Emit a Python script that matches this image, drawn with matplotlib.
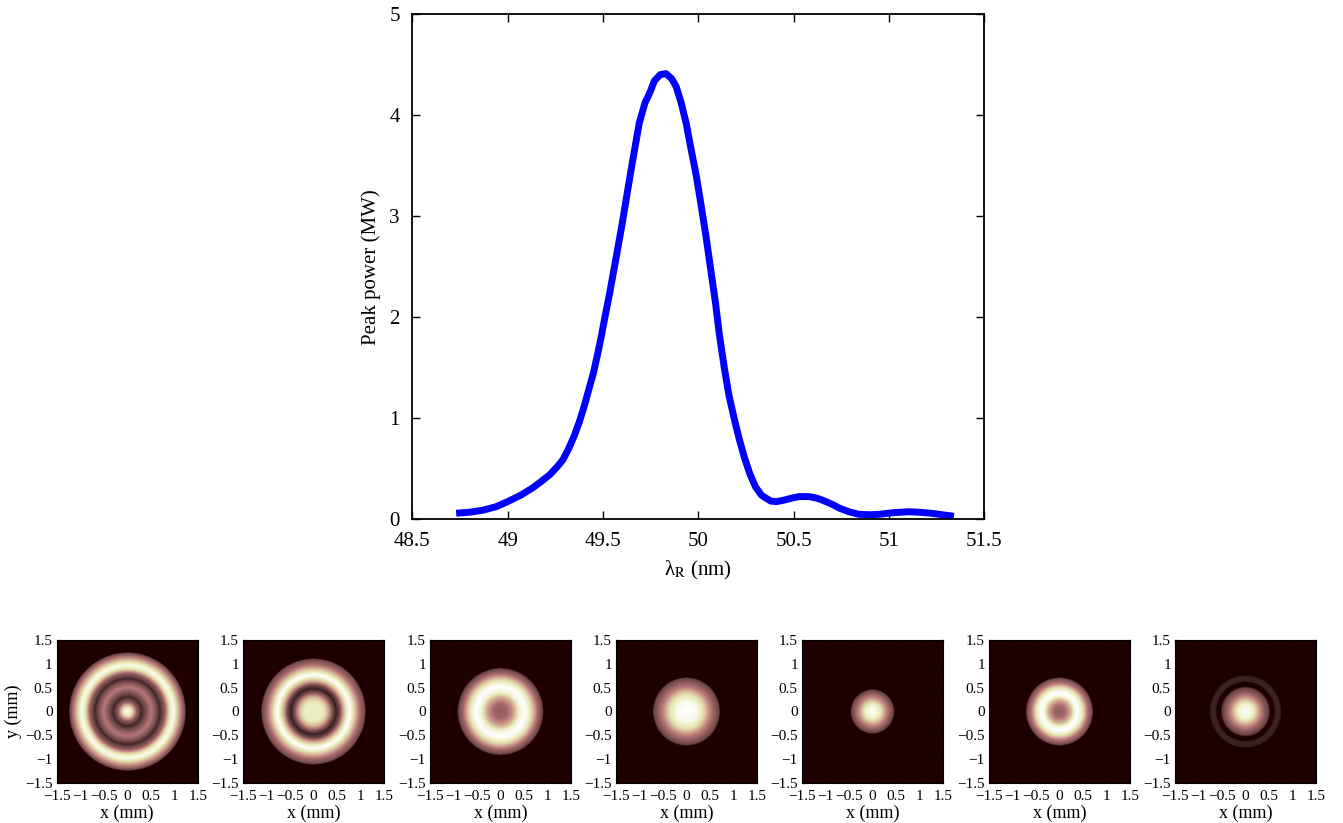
import numpy as np
import matplotlib
matplotlib.use('Agg')
import matplotlib.pyplot as plt

plt.rcParams['font.family'] = ['Liberation Serif', 'DejaVu Serif']
plt.rcParams['mathtext.fontset'] = 'stix'

# peak power vs resonant wavelength
lam = [48.73, 48.80, 48.87, 48.94, 49.0, 49.07, 49.13, 49.18, 49.22, 49.26, 49.29,
       49.32, 49.35, 49.375, 49.40, 49.425, 49.45, 49.47, 49.49, 49.51, 49.535,
       49.565, 49.60, 49.65, 49.69, 49.72, 49.745, 49.77, 49.80, 49.83, 49.86,
       49.884, 49.91, 49.936, 49.96, 49.99, 50.015, 50.04, 50.065, 50.09, 50.11,
       50.136, 50.16, 50.19, 50.215, 50.24, 50.27, 50.30, 50.33, 50.354, 50.38,
       50.41, 50.45, 50.49, 50.53, 50.58, 50.62, 50.65, 50.70, 50.74, 50.79,
       50.84, 50.90, 50.95, 51.02, 51.10, 51.16, 51.22, 51.28, 51.34]
power = [0.06, 0.07, 0.09, 0.125, 0.175, 0.24, 0.31, 0.38, 0.44, 0.52, 0.59,
         0.70, 0.83, 0.96, 1.11, 1.28, 1.45, 1.62, 1.80, 2.0, 2.24,
         2.55, 2.92, 3.49, 3.92, 4.12, 4.22, 4.34, 4.40, 4.41, 4.36,
         4.28, 4.12, 3.92, 3.68, 3.39, 3.1, 2.80, 2.47, 2.14, 1.83,
         1.50, 1.23, 0.98, 0.79, 0.62, 0.45, 0.32, 0.24, 0.21, 0.18,
         0.175, 0.19, 0.21, 0.225, 0.225, 0.21, 0.19, 0.15, 0.11, 0.075,
         0.05, 0.045, 0.05, 0.065, 0.075, 0.07, 0.06, 0.045, 0.03]

# radial intensity profiles of the seven transverse spots (r in mm, I normalised)
prof_r = [
    [0, 0.1, 0.2, 0.3, 0.4, 0.51, 0.6, 0.69, 0.8, 0.9, 0.98, 1.1, 1.2, 1.24],
    [0, 0.2, 0.3, 0.4, 0.48, 0.56, 0.65, 0.77, 0.9, 1.0, 1.11],
    [0, 0.15, 0.3, 0.42, 0.53, 0.65, 0.8, 0.91],
    [0, 0.2, 0.35, 0.5, 0.6, 0.71],
    [0, 0.15, 0.3, 0.4, 0.46],
    [0, 0.12, 0.25, 0.33, 0.4, 0.5, 0.6, 0.71],
    [0, 0.15, 0.3, 0.4, 0.5, 0.52, 0.62, 0.63, 0.69, 0.75, 0.76],
]
prof_i = [
    [1.0, 0.7, 0.2, 0.03, 0.15, 0.32, 0.17, 0.03, 0.2, 0.72, 0.94, 0.5, 0.17, 0.1],
    [0.8, 0.78, 0.55, 0.15, 0.02, 0.12, 0.55, 1.0, 0.55, 0.25, 0.1],
    [0.2, 0.25, 0.5, 0.88, 1.0, 0.72, 0.25, 0.08],
    [1.0, 0.94, 0.72, 0.36, 0.2, 0.09],
    [1.0, 0.8, 0.36, 0.16, 0.09],
    [0.2, 0.25, 0.55, 0.9, 1.0, 0.72, 0.3, 0.09],
    [1.0, 0.85, 0.42, 0.2, 0.09, 0.0, 0.0, 0.025, 0.03, 0.025, 0.0],
]

img_ticks = [-1.5, -1, -0.5, 0, 0.5, 1, 1.5]
img_ticklabels = ['\u22121.5', '\u22121', '\u22120.5', '0', '0.5', '1', '1.5']

fig = plt.figure(figsize=(13.43, 8.23), dpi=100)

ax = fig.add_axes([0.307, 0.369, 0.426, 0.614])
ax.plot(lam, power, color='blue', lw=5, solid_capstyle='butt', solid_joinstyle='round')
ax.set_xlim(48.5, 51.5)
ax.set_ylim(0, 5)
ax.set_xticks(np.arange(48.5, 51.6, 0.5))
ax.set_xticklabels(['48.5', '49', '49.5', '50', '50.5', '51', '51.5'])
ax.set_yticks(range(6))
ax.tick_params(direction='in', top=True, right=True, labelsize=15, length=6, width=1)
ax.tick_params(axis='x', pad=9)
ax.tick_params(axis='y', pad=9)
for s in ax.spines.values():
    s.set_linewidth(1.3)
ax.set_xlabel('\u03bb$_{\\mathrm{R}}$ (nm)', fontsize=15, labelpad=6)
ax.set_ylabel('Peak power (MW)', fontsize=15, labelpad=6)

# spot images
n = 300
g = np.linspace(-1.5, 1.5, n)
X, Y = np.meshgrid(g, g)
R = np.sqrt(X**2 + Y**2)
lefts = [56.7, 243, 430, 616, 802, 989, 1175]
for k in range(7):
    r = np.array(prof_r[k])
    I = np.array(prof_i[k])
    img = np.interp(R, r, I, right=0.0)
    a = fig.add_axes([lefts[k] / 1343, 1 - 783 / 823, 141 / 1343, 143 / 823])
    a.imshow(img, cmap='pink', vmin=0, vmax=1, extent=[-1.5, 1.5, -1.5, 1.5],
             origin='lower', interpolation='bilinear', aspect='auto')
    a.set_xticks(img_ticks)
    a.set_xticklabels(img_ticklabels)
    a.set_yticks(img_ticks)
    a.set_yticklabels(img_ticklabels)
    a.tick_params(direction='in', top=True, right=True, labelsize=11, length=3)
    a.tick_params(axis='x', pad=5)
    a.tick_params(axis='y', pad=3)
    a.set_xlabel('x (mm)', fontsize=13, labelpad=1)
    if k == 0:
        a.set_ylabel('y (mm)', fontsize=13, labelpad=2)

fig.savefig('out.png', dpi=100)
